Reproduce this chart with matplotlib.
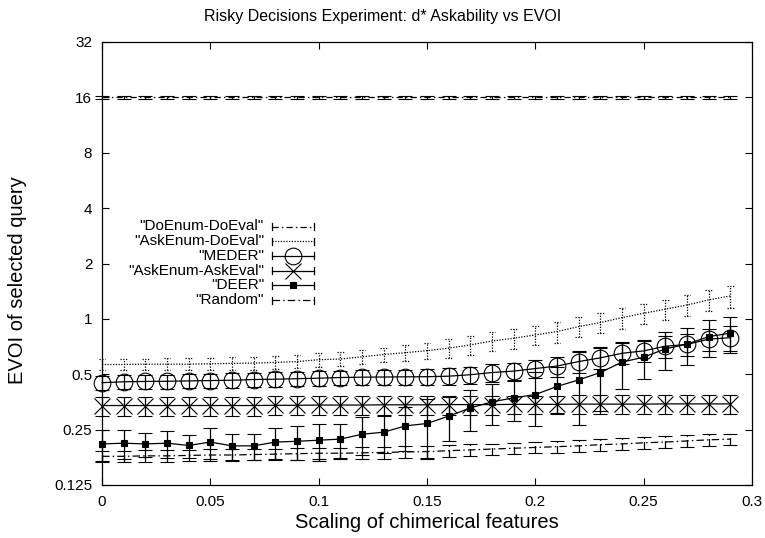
import matplotlib
matplotlib.use('Agg')
import matplotlib.pyplot as plt
from matplotlib.ticker import FixedLocator, FixedFormatter, NullLocator

plt.rcParams['font.family'] = ['Liberation Sans', 'DejaVu Sans']

# chimerical feature scaling (x) and EVOI of the selected query per method
scaling = [0.00, 0.01, 0.02, 0.03, 0.04, 0.05, 0.06, 0.07, 0.08, 0.09,
           0.10, 0.11, 0.12, 0.13, 0.14, 0.15, 0.16, 0.17, 0.18, 0.19,
           0.20, 0.21, 0.22, 0.23, 0.24, 0.25, 0.26, 0.27, 0.28, 0.29]

do_enum_do_eval = [16.0, 16.0, 16.0, 16.0, 16.0, 16.0, 16.0, 16.0, 16.0, 16.0,
                   16.0, 16.0, 16.0, 16.0, 16.0, 16.0, 16.0, 16.0, 16.0, 16.0,
                   16.0, 16.0, 16.0, 16.0, 16.0, 16.0, 16.0, 16.0, 16.0, 16.0]
do_enum_do_eval_err = [0.25, 0.25, 0.25, 0.25, 0.25, 0.25, 0.25, 0.25, 0.25, 0.25,
                       0.25, 0.25, 0.25, 0.25, 0.25, 0.25, 0.25, 0.25, 0.25, 0.25,
                       0.25, 0.25, 0.25, 0.25, 0.25, 0.25, 0.25, 0.25, 0.25, 0.25]

ask_enum_do_eval = [0.565, 0.565, 0.567, 0.567, 0.567, 0.570, 0.573, 0.575, 0.580, 0.586,
                    0.600, 0.605, 0.622, 0.640, 0.655, 0.672, 0.693, 0.722, 0.758, 0.785,
                    0.818, 0.853, 0.908, 0.955, 1.016, 1.073, 1.129, 1.190, 1.268, 1.333]
ask_enum_do_eval_err = [0.040, 0.040, 0.040, 0.042, 0.042, 0.043, 0.044, 0.045, 0.046, 0.048,
                        0.050, 0.052, 0.055, 0.058, 0.062, 0.068, 0.080, 0.085, 0.090, 0.095,
                        0.100, 0.110, 0.115, 0.120, 0.130, 0.135, 0.145, 0.155, 0.165, 0.180]

meder = [0.450, 0.455, 0.457, 0.458, 0.460, 0.462, 0.464, 0.468, 0.470, 0.473,
         0.476, 0.480, 0.482, 0.483, 0.484, 0.485, 0.488, 0.497, 0.511, 0.520,
         0.537, 0.554, 0.586, 0.614, 0.650, 0.670, 0.710, 0.726, 0.776, 0.790]
meder_err = [0.040, 0.040, 0.040, 0.040, 0.041, 0.041, 0.042, 0.042, 0.043, 0.043,
             0.044, 0.044, 0.045, 0.045, 0.046, 0.048, 0.050, 0.052, 0.055, 0.058,
             0.062, 0.070, 0.075, 0.080, 0.085, 0.090, 0.095, 0.100, 0.110, 0.120]

ask_enum_ask_eval = [0.338, 0.338, 0.338, 0.338, 0.338, 0.338, 0.338, 0.338, 0.339, 0.339,
                     0.340, 0.340, 0.340, 0.341, 0.341, 0.341, 0.342, 0.342, 0.342, 0.343,
                     0.343, 0.343, 0.344, 0.344, 0.344, 0.344, 0.345, 0.345, 0.345, 0.345]
ask_enum_ask_eval_err = [0.040, 0.040, 0.040, 0.040, 0.040, 0.040, 0.040, 0.040, 0.040, 0.040,
                         0.040, 0.040, 0.040, 0.040, 0.040, 0.040, 0.040, 0.040, 0.040, 0.040,
                         0.040, 0.040, 0.040, 0.040, 0.040, 0.040, 0.040, 0.040, 0.040, 0.040]

deer = [0.209, 0.211, 0.209, 0.211, 0.205, 0.214, 0.204, 0.204, 0.214, 0.216,
        0.219, 0.222, 0.236, 0.242, 0.262, 0.270, 0.296, 0.328, 0.354, 0.372,
        0.388, 0.429, 0.466, 0.511, 0.582, 0.619, 0.687, 0.729, 0.801, 0.836]
deer_err = [0.041, 0.038, 0.032, 0.036, 0.030, 0.040, 0.033, 0.034, 0.040, 0.044,
            0.050, 0.046, 0.055, 0.056, 0.070, 0.096, 0.080, 0.083, 0.088, 0.094,
            0.125, 0.120, 0.200, 0.196, 0.165, 0.150, 0.160, 0.168, 0.180, 0.185]

random_q = [0.179, 0.179, 0.180, 0.180, 0.181, 0.182, 0.182, 0.183, 0.184, 0.185,
            0.186, 0.186, 0.187, 0.188, 0.189, 0.190, 0.192, 0.194, 0.196, 0.198,
            0.200, 0.202, 0.204, 0.207, 0.209, 0.212, 0.214, 0.217, 0.220, 0.222]
random_q_err = [0.013, 0.013, 0.013, 0.013, 0.013, 0.013, 0.013, 0.013, 0.013, 0.013,
                0.013, 0.013, 0.013, 0.014, 0.014, 0.014, 0.014, 0.014, 0.014, 0.014,
                0.014, 0.015, 0.015, 0.015, 0.015, 0.015, 0.016, 0.016, 0.016, 0.016]

y_ticks = [0.125, 0.25, 0.5, 1, 2, 4, 8, 16, 32]
y_tick_labels = ['0.125', '0.25', '0.5', '1', '2', '4', '8', '16', '32']
x_ticks = [0, 0.05, 0.1, 0.15, 0.2, 0.25, 0.3]
x_tick_labels = ['0', '0.05', '0.1', '0.15', '0.2', '0.25', '0.3']

dashdot = (0, (5, 2.5, 1.2, 2.5))
dotted = (0, (1, 1.2))
lw = 0.9

series = [
    ('"DoEnum-DoEval"', do_enum_do_eval, do_enum_do_eval_err, dashdot, None, 0, 'k'),
    ('"AskEnum-DoEval"', ask_enum_do_eval, ask_enum_do_eval_err, dotted, None, 0, 'k'),
    ('"MEDER"', meder, meder_err, '-', 'o', 12, 'none'),
    ('"AskEnum-AskEval"', ask_enum_ask_eval, ask_enum_ask_eval_err, '-', 'x', 12, 'none'),
    ('"DEER"', deer, deer_err, '-', 's', 5, 'k'),
    ('"Random"', random_q, random_q_err, (0, (6, 2.5, 1.2, 2.5)), None, 0, 'k'),
]

fig = plt.figure(figsize=(7.65, 5.38), dpi=100)
ax = fig.add_axes([102 / 765, 53 / 538, 650 / 765, 443 / 538])

cap_half = 0.0016  # half width of an error bar cap, in x data units
for label, vals, errs, ls, mk, ms, mfc in series:
    dotted_caps = ls is dotted
    cont = ax.errorbar(scaling, vals, yerr=errs, color='k', lw=lw, ls=ls,
                       marker=mk, ms=ms, mfc=mfc, mec='k', mew=0.8,
                       elinewidth=lw, capsize=0 if dotted_caps else 5, capthick=lw)
    cont[2][0].set_linestyle(ls)
    for art in cont.get_children():
        art.set_clip_on(False)
    if dotted_caps:
        lo = [v - e for v, e in zip(vals, errs)]
        hi = [v + e for v, e in zip(vals, errs)]
        xl = [x - cap_half for x in scaling]
        xr = [x + cap_half for x in scaling]
        ax.hlines(lo + hi, xl + xl, xr + xr, colors='k', lw=lw, linestyles=dotted, clip_on=False)

ax.set_yscale('log', base=2)
ax.set_ylim(0.125, 32)
ax.set_xlim(0, 0.3)
ax.yaxis.set_major_locator(FixedLocator(y_ticks))
ax.yaxis.set_major_formatter(FixedFormatter(y_tick_labels))
ax.yaxis.set_minor_locator(NullLocator())
ax.xaxis.set_major_locator(FixedLocator(x_ticks))
ax.xaxis.set_major_formatter(FixedFormatter(x_tick_labels))
ax.tick_params(direction='in', length=5, width=0.8, top=True, right=True,
               labelsize=11, pad=7)
for sp in ax.spines.values():
    sp.set_linewidth(0.9)

# key drawn gnuplot-style: right-aligned label, sample line with end ticks
x_text = (264 - 102) / 650
x0, x1 = (272 - 102) / 650, (314 - 102) / 650
tick_h = 3.5 / 443
for row, (label, vals, errs, ls, mk, ms, mfc) in enumerate(series):
    y = (485 - (226.5 + 14.7 * row)) / 443
    ax.text(x_text, y, label, transform=ax.transAxes, ha='right', va='center', fontsize=11)
    ax.plot([x0, x1], [y, y], color='k', lw=lw, ls=ls, transform=ax.transAxes, clip_on=False)
    for xe in (x0, x1):
        ax.plot([xe, xe], [y - tick_h, y + tick_h], color='k', lw=lw,
                transform=ax.transAxes, clip_on=False)
    if mk:
        ax.plot([(x0 + x1) / 2], [y], marker=mk, ms=ms, mfc=mfc, mec='k', mew=0.8,
                color='k', transform=ax.transAxes, clip_on=False)

fig.text(0.5, 1 - 16 / 538, 'Risky Decisions Experiment: d* Askability vs EVOI',
         ha='center', va='center', fontsize=11.5)
fig.text((102 + 752) / 2 / 765, 1 - 522 / 538, 'Scaling of chimerical features',
         ha='center', va='center', fontsize=14.5)
fig.text(18 / 765, 1 - 280 / 538, 'EVOI of selected query', rotation=90,
         ha='center', va='center', fontsize=14.5)

fig.savefig('out.png', dpi=100)
